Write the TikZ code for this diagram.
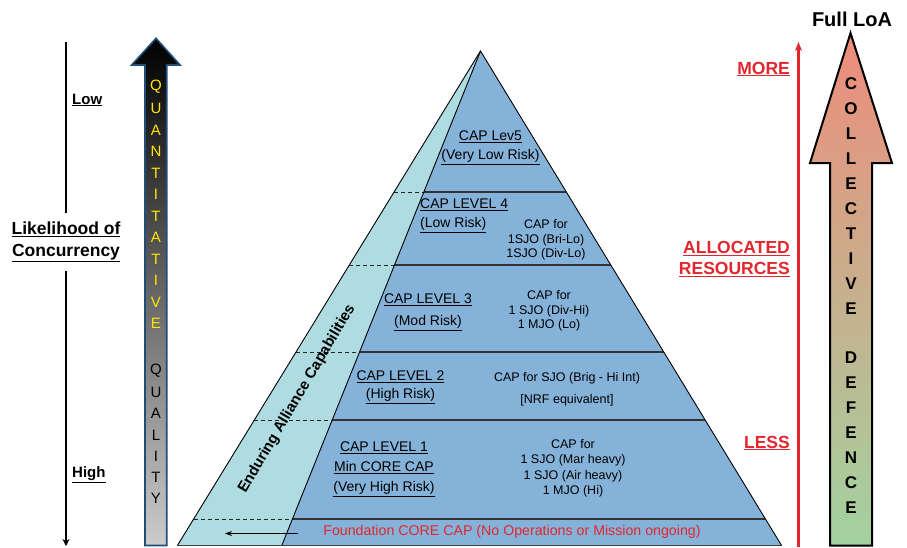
\documentclass[tikz,border=0pt]{standalone}
\usepackage{fontspec}
\setmainfont{Liberation Sans}
\usetikzlibrary{calc,arrows.meta}
\definecolor{azulpir}{HTML}{85B2D9}
\definecolor{verdepir}{HTML}{AFDCE0}
\definecolor{vermelhoforte}{HTML}{E3262E}
\definecolor{bordaq}{HTML}{1F4E79}
\definecolor{amareloq}{HTML}{FFE600}
\definecolor{cdtopo}{HTML}{EE8C7B}
\definecolor{cdmeio}{HTML}{EFB47F}
\definecolor{cdbase}{HTML}{A2D29F}
\begin{document}
\begin{tikzpicture}[x=1pt, y=-1pt,
  every node/.style={inner sep=0pt},
  nivel/.style={align=center, font=\fontsize{14}{19.5}\selectfont},
  detalhe/.style={align=center, font=\fontsize{12.5}{15}\selectfont},
  rotulo/.style={font=\bfseries\fontsize{15}{18}\selectfont, anchor=west},
  rotuloverm/.style={text=vermelhoforte, font=\bfseries\fontsize{17.5}{21.5}\selectfont, align=right, anchor=east},
  letraq/.style={text=amareloq, font=\fontsize{15}{15}\selectfont},
  letrap/.style={text=black, font=\fontsize{15}{15}\selectfont},
  letracd/.style={font=\bfseries\fontsize{17}{17}\selectfont}
]
\tikzset{
  divisa/.style={draw=black!80, line width=1.2pt},
  tracejada/.style={draw=black!85, line width=0.9pt, dash pattern=on 4pt off 3pt},
  contorno/.style={draw=black, line width=0.9pt}
}
\useasboundingbox (0,0) rectangle (907,547);

% piramide
\coordinate (apice) at (480.5,51);
\coordinate (baseesq) at (177.3,545.7);
\coordinate (basemeio) at (281.7,545.7);
\coordinate (basedir) at (781.7,545.7);
\fill[verdepir] (apice) -- (baseesq) -- (basemeio) -- cycle;
\fill[azulpir] (apice) -- (basemeio) -- (basedir) -- cycle;
\foreach \t in {0.285,0.4326,0.6085,0.746,0.946} {
  \draw[tracejada] ($(apice)!\t!(baseesq)$) -- ($(apice)!\t!(basemeio)$);
  \draw[divisa] ($(apice)!\t!(basemeio)$) -- ($(apice)!\t!(basedir)$);
}
\draw[contorno] (baseesq) -- (apice) -- (basedir);
\draw[contorno] (apice) -- (basemeio);
\draw[draw=black!75, line width=1.3pt] (baseesq) -- (basedir);

\node[nivel] (lev5) at (490.5,147.5) {\underline{CAP Lev5}\\\underline{(Very Low Risk)}};
\node[nivel, align=left, anchor=west] (lev4) at (420,215.5) {\underline{CAP LEVEL 4}\\\underline{(Low Risk)}};
\node[detalhe, font=\fontsize{12.5}{14.5}\selectfont] (cap4) at (546,240) {CAP for\\1SJO (Bri-Lo)\\1SJO (Div-Lo)};
\node[nivel, font=\fontsize{14}{22}\selectfont] (lev3) at (428,312) {\underline{CAP LEVEL 3}\\\underline{(Mod Risk)}};
\node[detalhe, font=\fontsize{12.5}{14.5}\selectfont] (cap3) at (549,311) {CAP for\\1 SJO (Div-Hi)\\1 MJO (Lo)};
\node[nivel, font=\fontsize{14}{18}\selectfont] (lev2) at (400.5,387) {\underline{CAP LEVEL 2}\\\underline{(High Risk)}};
\node[detalhe, font=\fontsize{12.5}{22}\selectfont] (cap2) at (567,389.5) {CAP for SJO (Brig - Hi Int)\\{[NRF equivalent]}};
\node[nivel, font=\fontsize{14}{20}\selectfont] (lev1) at (384,469) {\underline{CAP LEVEL 1}\\\underline{Min CORE CAP}\\\underline{(Very High Risk)}};
\node[detalhe, font=\fontsize{12.5}{15.5}\selectfont] (cap1) at (573,468.5) {CAP for\\1 SJO (Mar heavy)\\1 SJO (Air heavy)\\1 MJO (Hi)};
\node[text=vermelhoforte, font=\fontsize{14.2}{16}\selectfont] (fund) at (512,532) {Foundation CORE CAP (No Operations or Mission ongoing)};
\coordinate (setaini) at (298,533.5);
\coordinate (setafim) at (225,533.5);
\draw[line width=0.8pt, -{Stealth[length=7pt,width=5pt]}] (setaini) -- (setafim);
\node[font=\bfseries\fontsize{15}{18}\selectfont, rotate=59.5] (eac) at (297,399) {Enduring Alliance Capabilities};

% lado esquerdo
\coordinate (liktopo) at (66,42);
\coordinate (likbase) at (66,546);
\node[align=center, inner sep=9pt, font=\bfseries\fontsize{17.5}{21.5}\selectfont] (lik) at (66,242) {\underline{Likelihood of}\\\underline{Concurrency}};
\draw[line width=1.8pt] (liktopo) -- (lik.north);
\draw[line width=1.8pt, -{Stealth[length=7pt,width=7pt]}] (lik.south) -- (likbase);
\node[rotulo] (baixo) at (72,100) {\underline{Low}};
\node[rotulo] (alto) at (72,475) {\underline{High}};

% seta quantitativa
\shade[top color=black, bottom color=gray!40, draw=bordaq, line width=1.6pt]
  (145,545.5) -- (145,65) -- (131.7,65) -- (156,38.3) -- (180,65) -- (166.7,65) -- (166.7,545.5) -- cycle;
\foreach \l [count=\i] in {Q,U,A,N,T,I,T,A,T,I,V,E}
  \node[letraq] (qt\i) at (156,{87+21.5*(\i-1)}) {\l};
\foreach \l [count=\i] in {Q,U,A,L,I,T,Y}
  \node[letrap] (ql\i) at (156,{371+21.3*(\i-1)}) {\l};

% lado direito
\coordinate (vermbase) at (798.5,547);
\coordinate (vermtopo) at (798.5,42);
\draw[vermelhoforte, line width=2.2pt, -{Stealth[length=9pt,width=7pt]}] (vermbase) -- (vermtopo);
\node[rotuloverm] (mais) at (790,69) {\underline{MORE}};
\node[rotuloverm] (alocados) at (790,259) {\underline{ALLOCATED}\\\underline{RESOURCES}};
\node[rotuloverm] (menos) at (790,443) {\underline{LESS}};

\shade[top color=cdtopo, middle color=cdmeio, bottom color=cdbase, draw=black, line width=2pt]
  (830,545.5) -- (830,163) -- (810,163) -- (850.5,33) -- (892,163) -- (872,163) -- (872,545.5) -- cycle;
\foreach \l [count=\i] in {C,O,L,L,E,C,T,I,V,E}
  \node[letracd] (cd\i) at (851,{84+25*(\i-1)}) {\l};
\foreach \l [count=\i] in {D,E,F,E,N,C,E}
  \node[letracd] (df\i) at (851,{358+25*(\i-1)}) {\l};
\node[font=\bfseries\fontsize{20}{24}\selectfont] (fullloa) at (852,19) {Full LoA};
\end{tikzpicture}
\end{document}
